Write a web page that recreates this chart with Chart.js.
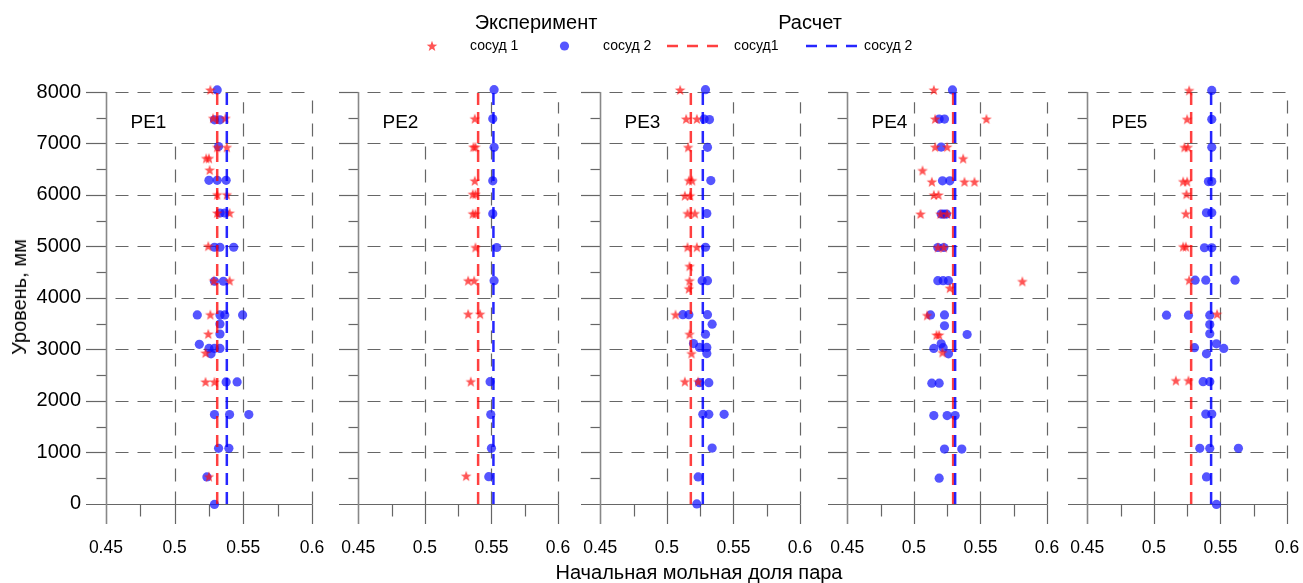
<!DOCTYPE html>
<html>
<head>
<meta charset="utf-8">
<script src="https://cdn.jsdelivr.net/npm/chart.js@4.4.1/dist/chart.umd.min.js"></script>
<style>
  body { margin: 0; background: #fff; width: 1303px; height: 583px; overflow: hidden; position: relative;
         font-family: "Liberation Sans", Arial, sans-serif; }
  canvas.panel { position: absolute; top: 0; }
  .lbl { position: absolute; white-space: nowrap; color: #000; }
  .leg { font-size: 14px; line-height: 20px; height: 20px; }
  .big { font-size: 20px; line-height: 24px; height: 24px; }
</style>
</head>
<body>
<canvas id="legendMarks" width="1303" height="62" style="position:absolute;left:0;top:0"></canvas>
<div class="lbl big" style="left:536px;top:10px;transform:translateX(-50%)">Эксперимент</div>
<div class="lbl big" style="left:810px;top:10px;transform:translateX(-50%)">Расчет</div>
<div class="lbl leg" style="left:470px;top:35px">сосуд 1</div>
<div class="lbl leg" style="left:603px;top:35px">сосуд 2</div>
<div class="lbl leg" style="left:734px;top:35px">сосуд1</div>
<div class="lbl leg" style="left:864px;top:35px">сосуд 2</div>

<canvas class="panel" id="pe1" width="328" height="583" style="left:0px"></canvas>
<canvas class="panel" id="pe2" width="242" height="583" style="left:332px"></canvas>
<canvas class="panel" id="pe3" width="242" height="583" style="left:574px"></canvas>
<canvas class="panel" id="pe4" width="242" height="583" style="left:821px"></canvas>
<canvas class="panel" id="pe5" width="242" height="583" style="left:1061px"></canvas>

<div class="lbl big" style="left:19px;top:297px;transform:translate(-50%,-50%) rotate(-90deg)">Уровень, мм</div>
<div class="lbl big" style="left:699px;top:560px;transform:translateX(-50%)">Начальная мольная доля пара</div>

<script>
// axis ticks
const xTicks = [0.45, 0.5, 0.55, 0.6];
const xMinorTicks = [0.475, 0.525, 0.575];
const yTicks = [0, 1000, 2000, 3000, 4000, 5000, 6000, 7000, 8000];
const yMinorTicks = [500, 1500, 2500, 3500, 4500, 5500, 6500, 7500];
const calcLevels = [0, 8000];

const panelNames = ["PE1", "PE2", "PE3", "PE4", "PE5"];

// calculated values (dashed lines)
const calcVessel1 = [0.531, 0.540, 0.518, 0.5295, 0.528];
const calcVessel2 = [0.538, 0.5515, 0.527, 0.531, 0.543];

// experiment, [mole fraction, level mm]
const pe1Vessel1 = [[0.526, 8040], [0.528, 7490], [0.537, 7490], [0.531, 6925], [0.538, 6925],
    [0.523, 6710], [0.525, 6710], [0.5255, 6485], [0.531, 6005], [0.538, 6005], [0.531, 5650],
    [0.540, 5650], [0.5245, 5005], [0.5285, 4335], [0.540, 4335], [0.526, 3675], [0.5245, 3300],
    [0.5225, 2930], [0.5225, 2370], [0.529, 2370], [0.525, 530]];
const pe1Vessel2 = [[0.531, 8040], [0.529, 7460], [0.533, 7460], [0.532, 6940], [0.525, 6285],
    [0.531, 6285], [0.5375, 6285], [0.533, 5650], [0.5365, 5650], [0.529, 4985], [0.533, 4985],
    [0.543, 4985], [0.529, 4325], [0.5355, 4325], [0.5165, 3670], [0.533, 3670], [0.5365, 3670],
    [0.5495, 3670], [0.533, 3495], [0.533, 3300], [0.518, 3100], [0.525, 3020], [0.529, 3020],
    [0.533, 3020], [0.5265, 2915], [0.5375, 2370], [0.5455, 2370], [0.529, 1735], [0.540, 1735],
    [0.554, 1735], [0.532, 1080], [0.5395, 1080], [0.5235, 525], [0.529, -10]];

const pe2Vessel1 = [[0.5375, 7480], [0.5365, 6930], [0.538, 6930], [0.5375, 6275], [0.536, 6015],
    [0.538, 6015], [0.536, 5635], [0.538, 5635], [0.538, 4980], [0.5325, 4335], [0.537, 4335],
    [0.5325, 3685], [0.5415, 3685], [0.5345, 2375], [0.531, 540]];
const pe2Vessel2 = [[0.552, 8045], [0.551, 7480], [0.552, 6925], [0.551, 6275], [0.551, 5635],
    [0.554, 4980], [0.552, 4335], [0.549, 2375], [0.5495, 1735], [0.550, 1080], [0.548, 530]];

const pe3Vessel1 = [[0.510, 8040], [0.5145, 7475], [0.5225, 7475], [0.516, 6925], [0.5165, 6280],
    [0.519, 6280], [0.5135, 5985], [0.5175, 5985], [0.5155, 5640], [0.521, 5640], [0.5155, 4985],
    [0.5225, 4985], [0.517, 4615], [0.517, 4335], [0.5165, 4180], [0.5065, 3675], [0.517, 3295],
    [0.5185, 2920], [0.5135, 2375], [0.5235, 2375]];
const pe3Vessel2 = [[0.529, 8045], [0.528, 7475], [0.532, 7465], [0.5305, 6925], [0.533, 6280],
    [0.530, 5640], [0.529, 4985], [0.5265, 4335], [0.5305, 4335], [0.512, 3675], [0.5165, 3675],
    [0.5305, 3675], [0.534, 3490], [0.529, 3295], [0.520, 3115], [0.5245, 3040], [0.530, 3040],
    [0.530, 2920], [0.5245, 2355], [0.5315, 2355], [0.527, 1740], [0.5315, 1740], [0.543, 1740],
    [0.534, 1085], [0.5235, 525], [0.5225, 0]];

const pe4Vessel1 = [[0.515, 8040], [0.516, 7475], [0.5545, 7475], [0.516, 6930], [0.525, 6930],
    [0.537, 6705], [0.5065, 6475], [0.5135, 6255], [0.538, 6255], [0.5455, 6255], [0.515, 6000],
    [0.5185, 6000], [0.505, 5630], [0.520, 5630], [0.525, 5630], [0.518, 4980], [0.5225, 4980],
    [0.5815, 4320], [0.527, 4190], [0.510, 3660], [0.517, 3280], [0.519, 3280], [0.5215, 2940]];
const pe4Vessel2 = [[0.529, 8040], [0.519, 7475], [0.523, 7475], [0.5205, 6930], [0.5215, 6275],
    [0.527, 6275], [0.5205, 5630], [0.5225, 5630], [0.5245, 5630], [0.518, 4980], [0.5225, 4980],
    [0.518, 4335], [0.522, 4335], [0.526, 4335], [0.5125, 3670], [0.523, 3670], [0.523, 3460],
    [0.540, 3290], [0.5205, 3110], [0.522, 3035], [0.515, 3020], [0.526, 2915], [0.5135, 2345],
    [0.519, 2345], [0.515, 1715], [0.525, 1715], [0.531, 1715], [0.523, 1065], [0.536, 1065],
    [0.519, 500]];

const pe5Vessel1 = [[0.5265, 8030], [0.525, 7470], [0.523, 6925], [0.5255, 6925], [0.522, 6260],
    [0.525, 6260], [0.5245, 6015], [0.524, 5635], [0.522, 4995], [0.524, 4995], [0.5265, 4345],
    [0.5475, 3685], [0.5165, 2395], [0.526, 2395]];
const pe5Vessel2 = [[0.5435, 8030], [0.5435, 7470], [0.5435, 6925], [0.541, 6260], [0.5435, 6260],
    [0.5395, 5655], [0.5435, 5655], [0.538, 4975], [0.5435, 4975], [0.531, 4345], [0.539, 4345],
    [0.561, 4345], [0.5095, 3665], [0.526, 3665], [0.542, 3665], [0.542, 3485], [0.542, 3305],
    [0.547, 3110], [0.5525, 3020], [0.5305, 3035], [0.5395, 2915], [0.537, 2375], [0.542, 2375],
    [0.539, 1745], [0.5435, 1745], [0.5345, 1080], [0.542, 1080], [0.5635, 1080], [0.5395, 525],
    [0.547, -10]];

const vessel1Sets = [pe1Vessel1, pe2Vessel1, pe3Vessel1, pe4Vessel1, pe5Vessel1];
const vessel2Sets = [pe1Vessel2, pe2Vessel2, pe3Vessel2, pe4Vessel2, pe5Vessel2];

// where the grey vertical dashed lines (0.5, 0.55, 0.6) start at the top
const vGridTops = [[7000, 7800, 8000], [7000, 7800, 7800], [6950, 7800, 7800], [7800, 7800, 7800], [6900, 7800, 7950]];

const FONT = '"Liberation Sans", Arial, sans-serif';
const RED = "rgba(255, 20, 20, 0.72)";
const BLUE = "rgba(20, 20, 255, 0.72)";
const GRID = "#666";
const X_MIN = 0.4355;
const Y_MIN = -390;

function starPath(ctx, cx, cy, R, r) {
    ctx.beginPath();
    for (let k = 0; k < 10; k++) {
        const a = -Math.PI / 2 + k * Math.PI / 5;
        const rad = k % 2 ? r : R;
        ctx.lineTo(cx + rad * Math.cos(a), cy + rad * Math.sin(a));
    }
    ctx.closePath();
}

// filled five-point star used as point style
const starImg = document.createElement("canvas");
starImg.width = 12;
starImg.height = 12;
{
    const c = starImg.getContext("2d");
    starPath(c, 6, 6.4, 5.6, 2.3);
    c.fillStyle = RED;
    c.fill();
}

function seg(ctx, x1, y1, x2, y2) {
    ctx.beginPath();
    ctx.moveTo(x1, y1);
    ctx.lineTo(x2, y2);
    ctx.stroke();
}

const framePlugin = {
    id: "frame",
    beforeDatasetsDraw(chart, args, opts) {
        const { ctx, chartArea: a, scales: { x, y } } = chart;
        const x0 = Math.round(x.getPixelForValue(0.45)) + 0.5;
        const x1 = x.getPixelForValue(0.6);
        const yZero = Math.round(y.getPixelForValue(0)) + 0.5;
        ctx.save();
        ctx.strokeStyle = GRID;
        ctx.lineWidth = 1.2;

        // horizontal lines: solid tick part, then dashed grid
        yTicks.forEach((v) => {
            const py = Math.round(y.getPixelForValue(v)) + 0.5;
            ctx.setLineDash([]);
            if (v === 0) {
                seg(ctx, a.left, py, x1, py);
            } else {
                seg(ctx, a.left, py, x0, py);
                ctx.setLineDash([13, 9]);
                ctx.lineDashOffset = -9;
                seg(ctx, x0, py, x1, py);
                ctx.lineDashOffset = 0;
            }
        });
        ctx.setLineDash([]);
        yMinorTicks.forEach((v) => {
            const py = Math.round(y.getPixelForValue(v)) + 0.5;
            seg(ctx, x0 - 10, py, x0, py);
        });

        // vertical grid lines and x ticks
        xTicks.slice(1).forEach((v, k) => {
            const px = Math.round(x.getPixelForValue(v)) + 0.5;
            ctx.setLineDash([13, 10]);
            seg(ctx, px, yZero, px, y.getPixelForValue(opts.tops[k]));
            ctx.setLineDash([]);
            seg(ctx, px, yZero, px, a.bottom);
        });
        xMinorTicks.forEach((v) => {
            const px = Math.round(x.getPixelForValue(v)) + 0.5;
            seg(ctx, px, yZero, px, yZero + 12);
        });

        // vertical axis at 0.45
        ctx.strokeStyle = "#888";
        ctx.lineWidth = 1.6;
        seg(ctx, x0, y.getPixelForValue(8000), x0, a.bottom);

        // panel name
        ctx.fillStyle = "#000";
        ctx.font = "19px " + FONT;
        ctx.textBaseline = "middle";
        ctx.fillText(opts.name, x0 + 24, y.getPixelForValue(7500) + 5);
        ctx.restore();
    },
};

function toXY(pairs) {
    return pairs.map((p) => ({ x: p[0], y: p[1] }));
}

function calcLine(value, color) {
    return {
        type: "line",
        data: calcLevels.map((lv) => ({ x: value, y: lv })),
        borderColor: color,
        borderWidth: 2.5,
        borderDash: [12, 7],
        pointRadius: 0,
        fill: false,
        clip: false,
    };
}

function makePanel(i) {
    const first = i === 0;
    new Chart(document.getElementById("pe" + (i + 1)), {
        type: "scatter",
        data: {
            datasets: [
                calcLine(calcVessel2[i], "rgba(0, 0, 255, 0.85)"),
                calcLine(calcVessel1[i], "rgba(255, 0, 0, 0.75)"),
                {
                    label: "сосуд 1",
                    data: toXY(vessel1Sets[i]),
                    pointStyle: starImg,
                    pointRadius: 6,
                    clip: false,
                },
                {
                    label: "сосуд 2",
                    data: toXY(vessel2Sets[i]),
                    pointStyle: "circle",
                    pointRadius: 4.6,
                    backgroundColor: BLUE,
                    borderWidth: 0,
                    clip: false,
                },
            ],
        },
        options: {
            responsive: false,
            animation: false,
            layout: { padding: { top: 92, right: 16, bottom: 0, left: 0 } },
            plugins: {
                legend: { display: false },
                tooltip: { enabled: false },
                frame: { name: panelNames[i], tops: vGridTops[i] },
            },
            scales: {
                x: {
                    type: "linear",
                    min: X_MIN,
                    max: 0.6,
                    afterBuildTicks: (s) => { s.ticks = xTicks.map((v) => ({ value: v })); },
                    afterFit: (s) => {
                        s.height = 59;
                        s.paddingLeft = 0;
                        s.paddingRight = 0;
                    },
                    grid: { display: false, drawTicks: false },
                    border: { display: false },
                    ticks: {
                        color: "#000",
                        font: { family: FONT, size: 17.5 },
                        padding: 14,
                        maxRotation: 0,
                        autoSkip: false,
                        callback: (v) => String(v),
                    },
                },
                y: {
                    type: "linear",
                    display: first,
                    min: Y_MIN,
                    max: 8000,
                    afterBuildTicks: (s) => { s.ticks = yTicks.map((v) => ({ value: v })); },
                    afterFit: (s) => {
                        s.width = first ? 86 : 0;
                        s.paddingTop = 0;
                        s.paddingBottom = 0;
                    },
                    grid: { display: false, drawTicks: false },
                    border: { display: false },
                    ticks: {
                        color: "#000",
                        font: { family: FONT, size: 20 },
                        padding: 5,
                        autoSkip: false,
                        callback: (v) => String(v),
                    },
                },
            },
        },
        plugins: [framePlugin],
    });
}

for (let i = 0; i < 5; i++) makePanel(i);

// legend markers
{
    const c = document.getElementById("legendMarks").getContext("2d");
    starPath(c, 432, 46.4, 5.6, 2.3);
    c.fillStyle = RED;
    c.fill();
    c.beginPath();
    c.arc(564.5, 46, 4.6, 0, Math.PI * 2);
    c.fillStyle = BLUE;
    c.fill();
    c.lineWidth = 2.5;
    c.setLineDash([11, 9]);
    c.strokeStyle = "rgba(255, 0, 0, 0.75)";
    seg(c, 667, 46, 720, 46);
    c.strokeStyle = "rgba(0, 0, 255, 0.85)";
    seg(c, 806, 46, 859, 46);
}
</script>
</body>
</html>
